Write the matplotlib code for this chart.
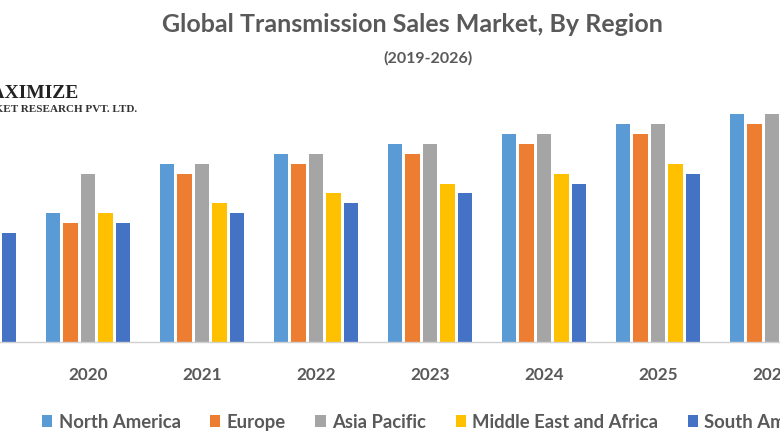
import matplotlib
matplotlib.use('Agg')
import matplotlib.pyplot as plt
import numpy as np

years = ['2019', '2020', '2021', '2022', '2023', '2024', '2025', '2026']
north_america = [12, 13, 18, 19, 20, 21, 22, 23]
europe = [11, 12, 17, 18, 19, 20, 21, 22]
asia_pacific = [16, 17, 18, 19, 20, 21, 22, 23]
middle_east = [12, 13, 14, 15, 16, 17, 18, 19]
south_america = [11, 12, 13, 14, 15, 16, 17, 18]

series_names = ['North America', 'Europe', 'Asia Pacific', 'Middle East and Africa', 'South America']
series_colors = ['#5B9BD5', '#ED7D31', '#A5A5A5', '#FFC000', '#4472C4']
text_color = '#595959'

plt.rcParams['font.family'] = ['Lato', 'DejaVu Sans']

W, H = 780, 440
fig = plt.figure(figsize=(W / 100, H / 100), dpi=100)
fig.patch.set_facecolor('white')

# axes runs the full width, baseline sits at y=342 px, 2019 group is mostly off the left edge
ax = fig.add_axes([0, (H - 342) / H, 1, 242 / H])
ax.set_xlim(26 / 114, 806 / 114)
ax.set_ylim(0, 242 / 9.9)

x = np.arange(len(years))
offset = [-35 / 114, -17.5 / 114, 0, 17.5 / 114, 35 / 114]
width = 14.5 / 114
all_series = [north_america, europe, asia_pacific, middle_east, south_america]
for i in range(5):
    ax.bar(x + offset[i], all_series[i], width, color=series_colors[i], label=series_names[i])

for s in ['top', 'left', 'right']:
    ax.spines[s].set_visible(False)
ax.spines['bottom'].set_color('#D0D0D0')
ax.spines['bottom'].set_linewidth(1.0)
ax.set_yticks([])
ax.set_xticks(x[1:])
ax.set_xticklabels(years[1:], fontsize=12.3, fontweight='bold', color=text_color)
ax.tick_params(axis='x', length=0, pad=18)
ax.patch.set_alpha(0)

fig.text(412 / W, 1 - 24 / H, 'Global Transmission Sales Market, By Region', ha='center', va='center',
         fontsize=18, fontweight='bold', color=text_color)
fig.text(428 / W, 1 - 58 / H, '(2019-2026)', ha='center', va='center',
         fontsize=11.5, fontweight='bold', color=text_color)

# logo, cut off by the left edge
fig.text(79 / W, 1 - 93 / H, 'MAXIMIZE', ha='right', va='center', family='Liberation Serif',
         fontsize=14, fontweight='bold', color='#222222')
fig.text(137 / W, 1 - 110 / H, 'MARKET RESEARCH PVT. LTD.', ha='right', va='center', family='Liberation Serif',
         fontsize=8, fontweight='bold', color='#333333')

fig.legend(loc='center left', bbox_to_anchor=(42 / W, 1 - 422 / H), ncol=5, frameon=False,
           prop={'size': 13.3, 'weight': 'bold'}, labelcolor=text_color, handlelength=0.55,
           handleheight=0.55, handletextpad=0.35, columnspacing=1.6, borderpad=0, borderaxespad=0)

fig.savefig('out.png', dpi=100)
